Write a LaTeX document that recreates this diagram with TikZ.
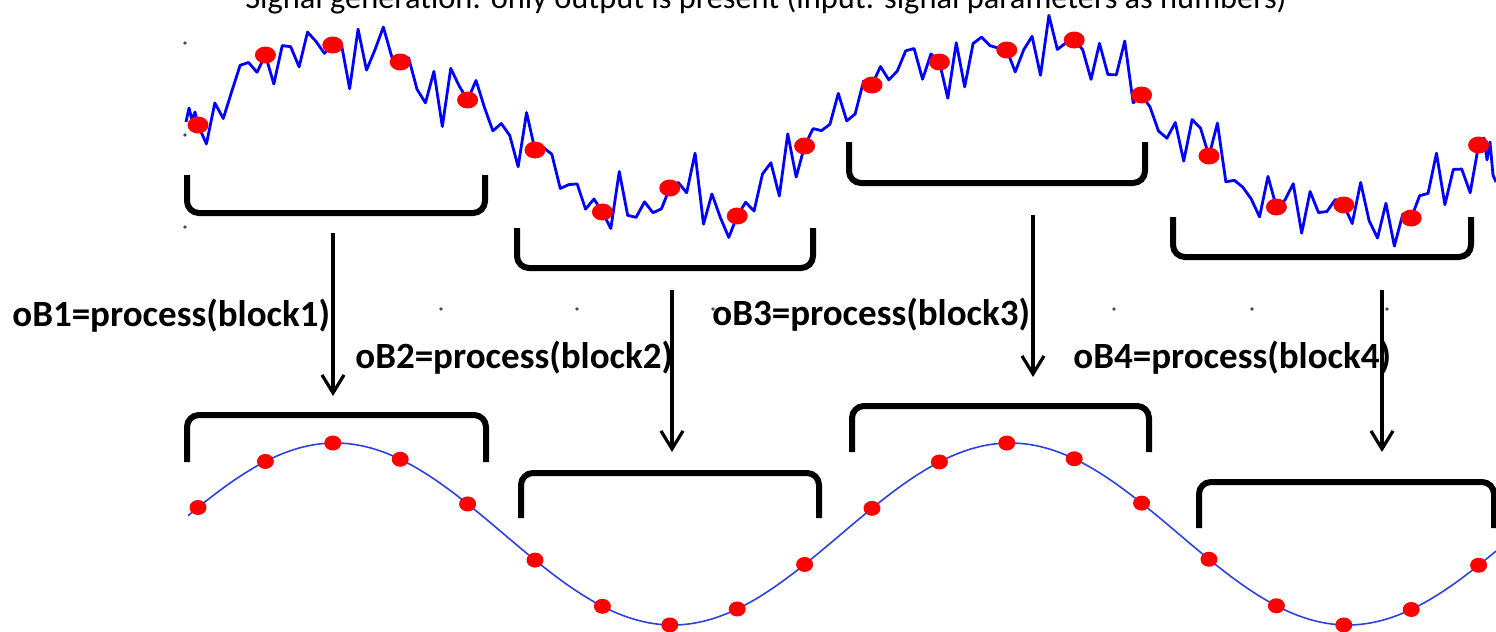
\documentclass[tikz,border=0pt]{standalone}
\usepackage{fontspec}
\setmainfont{Carlito}
\usetikzlibrary{arrows.meta,calc,shapes.geometric}
\begin{document}
\begin{tikzpicture}[x=0.5pt,y=-0.5pt,
  brk/.style={line width=3pt,black,rounded corners=6pt},
  arr/.style={line width=1.6pt,black,-{Straight Barb[length=9pt,width=11pt,line width=1.6pt]}},
  noisy/.style={blue,line width=1.4pt,line join=round},
  smoothsig/.style={color={rgb,255:red,45;green,65;blue,225},line width=0.8pt},
  tdot/.style={ellipse,fill=red,draw=none,inner sep=0pt,minimum width=10.5pt,minimum height=8.5pt},
  bdot/.style={ellipse,fill=red,draw=none,inner sep=0pt,minimum width=8.5pt,minimum height=7.5pt},
  lbl/.style={anchor=base west,inner sep=0pt,font=\bfseries\fontsize{18.5}{22}\selectfont},
  ttl/.style={anchor=base,inner sep=0pt,font=\fontsize{16.2}{19}\selectfont},
  tick/.style={fill=black!70}
]
\useasboundingbox (0,0) rectangle (1496,632);
\clip (0,0) rectangle (1496,632);

% title (cut at the top edge, as in the original)
\node[ttl] (title) at (766,8) {Signal generation: only output is present (input: signal parameters as numbers)};

% tiny tick marks
\foreach \p in {(185,43),(185,135),(185,227),(441,309),(577,309),(713,309),(1114,309),(1252,309),(1387,309)}
  \fill[tick] \p circle[radius=0.9pt];

% sample positions of the noisy signal
\foreach \n/\yy in {0/125,1/55,2/45,3/62,4/100,5/150,6/212,7/188,8/216,9/146,10/85,11/62,12/50,13/40,14/95,15/156,16/207,17/205,18/218,19/145}
  \coordinate (tc\n) at ({198+67.4*\n},\yy);

% noisy input signal
\draw[noisy] (186,122) -- (189,108) -- (192,120) -- (195,112) -- (tc0)
  \foreach \n [count=\m from 1] in {0,...,18}{
    \foreach \j [evaluate=\j as \ny using 19*sin(296*\n+127*\j)+13*sin(224*\n+163*\j+30)+11*sin(328*\n+41*\j+50)+7*sin(232*\n+29*\j+10)] in {1,...,7}{
      -- ($(tc\n)!\j/8!(tc\m)+(0,\ny)$)
    }
    -- (tc\m)
  }
  -- (1484,138) -- (1487,160) -- (1490,142) -- (1493,175) -- (1496,182);

\foreach \n in {0,...,19}
  \node[tdot] (td\n) at (tc\n) {};

% clean output signal
\draw[smoothsig] plot[domain=188:1496,samples=220,smooth] (\x,{534-91*cos((\x-335)*0.53333)});
\foreach \n in {0,...,19}
  \node[bdot] (bd\n) at ({198+67.4*\n},{534-91*cos((198+67.4*\n-335)*0.53333)}) {};

% input blocks (brackets opening upwards)
\draw[brk] (187,175) -- (187,213) -- (485,213) -- (485,175);
\draw[brk] (517,228) -- (517,268) -- (813,268) -- (813,228);
\draw[brk] (849,142) -- (849,183) -- (1145,183) -- (1145,142);
\draw[brk] (1173,217) -- (1173,257) -- (1471,257) -- (1471,217);

% output blocks (brackets opening downwards)
\draw[brk] (187,462) -- (187,415) -- (486,415) -- (486,462);
\draw[brk] (521,518) -- (521,473) -- (819,473) -- (819,518);
\draw[brk] (852,452) -- (852,406) -- (1149,406) -- (1149,452);
\draw[brk] (1199,528) -- (1199,482) -- (1494,482) -- (1494,528);

% arrows
\coordinate (a1s) at (333,233); \coordinate (a1e) at (333,396);
\coordinate (a2s) at (672,290); \coordinate (a2e) at (672,452);
\coordinate (a3s) at (1033,215); \coordinate (a3e) at (1033,377);
\coordinate (a4s) at (1382,290); \coordinate (a4e) at (1382,452);
\draw[arr] (a1s) -- (a1e);
\draw[arr] (a2s) -- (a2e);
\draw[arr] (a3s) -- (a3e);
\draw[arr] (a4s) -- (a4e);

% labels
\node[lbl] (l1) at (12,326) {oB1=process(block1)};
\node[lbl] (l2) at (355,368) {oB2=process(block2)};
\node[lbl] (l3) at (712,325) {oB3=process(block3)};
\node[lbl] (l4) at (1073,368) {oB4=process(block4)};
\end{tikzpicture}
\end{document}
